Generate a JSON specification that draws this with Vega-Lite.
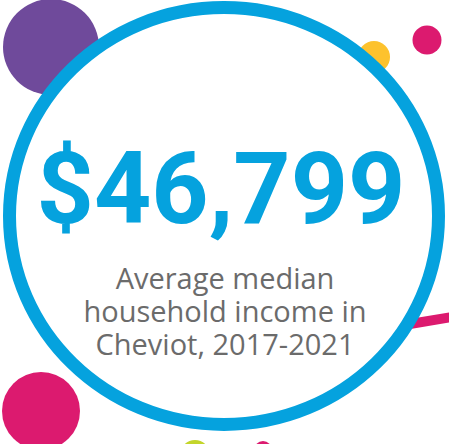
{
  "$schema": "https://vega.github.io/schema/vega-lite/v6.json",
  "width": 449,
  "height": 444,
  "autosize": {"type": "none"},
  "padding": 0,
  "background": "white",
  "config": {"view": {"stroke": null}},
  "layer": [
    {
      "data": {"values": [
        {"name": "purple", "cx": 51, "cy": 47, "r": 48},
        {"name": "yellow", "cx": 374, "cy": 57, "r": 16},
        {"name": "magenta", "cx": 427, "cy": 40, "r": 14.5},
        {"name": "magenta", "cx": 41, "cy": 411, "r": 39},
        {"name": "green", "cx": 195, "cy": 455, "r": 15},
        {"name": "magenta", "cx": 263, "cy": 450, "r": 9}
      ]},
      "mark": {"type": "point", "shape": "circle", "filled": true, "opacity": 1, "strokeWidth": 0},
      "encoding": {
        "x": {"field": "cx", "type": "quantitative", "scale": {"domain": [0, 449], "nice": false, "zero": false}, "axis": null},
        "y": {"field": "cy", "type": "quantitative", "scale": {"domain": [0, 444], "nice": false, "zero": false, "reverse": true}, "axis": null},
        "size": {"field": "r", "type": "quantitative", "scale": {"type": "pow", "exponent": 2, "domain": [0, 100], "range": [0, 40000]}, "legend": null},
        "color": {"field": "name", "type": "nominal", "scale": {"domain": ["purple", "yellow", "magenta", "green"], "range": ["#6f4a9b", "#fdc22d", "#dc1a6f", "#c3d52a"]}, "legend": null}
      }
    },
    {
      "data": {"values": [
        {"px": 395, "py": 326.5},
        {"px": 470, "py": 314}
      ]},
      "mark": {"type": "line", "color": "#dc1a6f", "strokeWidth": 10, "strokeCap": "butt"},
      "encoding": {
        "x": {"field": "px", "type": "quantitative", "axis": null},
        "y": {"field": "py", "type": "quantitative", "axis": null}
      }
    },
    {
      "data": {"values": [
        {"cx": 224, "cy": 216, "r": 214.5}
      ]},
      "mark": {"type": "point", "shape": "M-1,0A1,0.972,0,1,1,1,0A1,0.972,0,1,1,-1,0Z", "filled": false, "fill": "white", "fillOpacity": 1, "stroke": "#05a2de", "strokeWidth": 13, "opacity": 1},
      "encoding": {
        "x": {"field": "cx", "type": "quantitative", "axis": null},
        "y": {"field": "cy", "type": "quantitative", "axis": null},
        "size": {"field": "r", "type": "quantitative", "legend": null}
      }
    },
    {
      "data": {"values": [
        {"label": "$46,799", "tx": 221, "ty": 223}
      ]},
      "mark": {"type": "text", "font": "Roboto", "fontWeight": "bold", "fontSize": 100, "color": "#05a2de", "align": "center", "baseline": "alphabetic"},
      "encoding": {
        "x": {"field": "tx", "type": "quantitative", "axis": null},
        "y": {"field": "ty", "type": "quantitative", "axis": null},
        "text": {"field": "label"}
      }
    },
    {
      "data": {"values": [
        {"label": "Average median", "tx": 225, "ty": 289},
        {"label": "household income in", "tx": 225, "ty": 322},
        {"label": "Cheviot, 2017-2021", "tx": 225, "ty": 355}
      ]},
      "mark": {"type": "text", "font": "Open Sans", "fontWeight": "normal", "fontSize": 29, "color": "#6b6b6b", "align": "center", "baseline": "alphabetic"},
      "encoding": {
        "x": {"field": "tx", "type": "quantitative", "axis": null},
        "y": {"field": "ty", "type": "quantitative", "axis": null},
        "text": {"field": "label"}
      }
    }
  ]
}
